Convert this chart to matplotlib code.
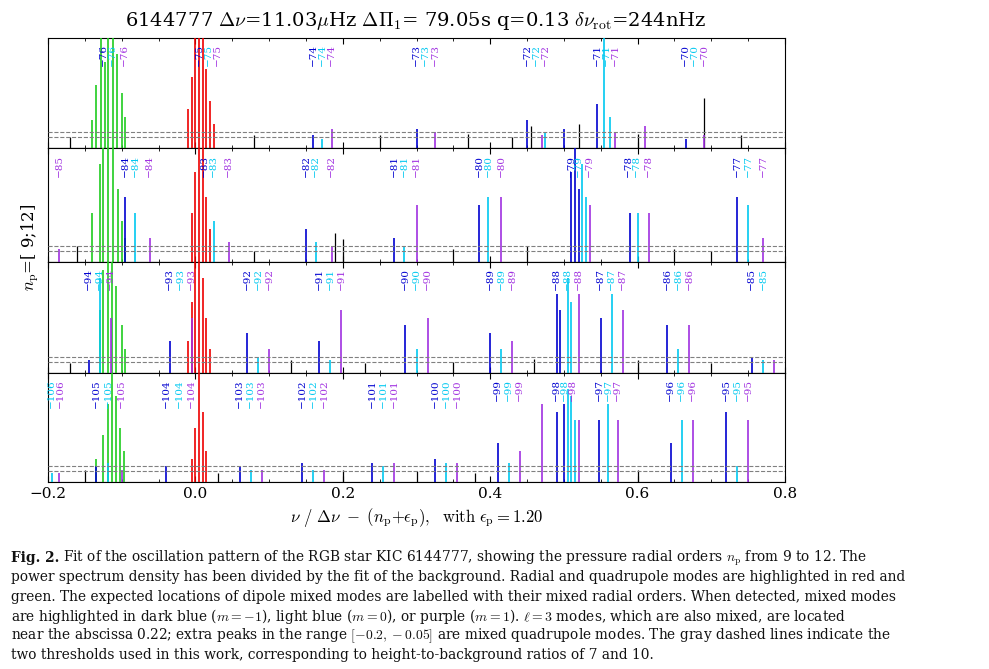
import matplotlib
matplotlib.use("Agg")
import matplotlib.pyplot as plt

COL = {'g': '#1fcc1f', 'r': '#ee0000', 'b': '#0000d0', 'c': '#00c8f0', 'p': '#a030e0', 'k': 'black'}

# mode labels per panel: (x, mixed order, colour)
lab1 = [(-0.125,-76,'b'),(-0.112,-76,'c'),(-0.097,-76,'p'),(0.005,-75,'b'),(0.017,-75,'c'),(0.03,-75,'p'),
        (0.16,-74,'b'),(0.172,-74,'c'),(0.185,-74,'p'),(0.30,-73,'b'),(0.312,-73,'c'),(0.325,-73,'p'),
        (0.45,-72,'b'),(0.462,-72,'c'),(0.475,-72,'p'),(0.545,-71,'b'),(0.557,-71,'c'),(0.57,-71,'p'),
        (0.665,-70,'b'),(0.677,-70,'c'),(0.69,-70,'p')]
lab2 = [(-0.185,-85,'p'),(-0.095,-84,'b'),(-0.082,-84,'c'),(-0.062,-84,'p'),(0.012,-83,'b'),(0.025,-83,'c'),(0.045,-83,'p'),
        (0.15,-82,'b'),(0.163,-82,'c'),(0.185,-82,'p'),(0.27,-81,'b'),(0.283,-81,'c'),(0.30,-81,'p'),
        (0.385,-80,'b'),(0.397,-80,'c'),(0.415,-80,'p'),(0.51,-79,'b'),(0.52,-79,'c'),(0.535,-79,'p'),
        (0.588,-78,'b'),(0.598,-78,'c'),(0.615,-78,'p'),(0.735,-77,'b'),(0.75,-77,'c'),(0.77,-77,'p')]
lab3 = [(-0.145,-94,'b'),(-0.13,-94,'c'),(-0.115,-94,'p'),(-0.035,-93,'b'),(-0.02,-93,'c'),(-0.005,-93,'p'),
        (0.07,-92,'b'),(0.085,-92,'c'),(0.10,-92,'p'),(0.168,-91,'b'),(0.183,-91,'c'),(0.198,-91,'p'),
        (0.285,-90,'b'),(0.30,-90,'c'),(0.315,-90,'p'),(0.40,-89,'b'),(0.415,-89,'c'),(0.43,-89,'p'),
        (0.49,-88,'b'),(0.505,-88,'c'),(0.52,-88,'p'),(0.55,-87,'b'),(0.565,-87,'c'),(0.58,-87,'p'),
        (0.64,-86,'b'),(0.655,-86,'c'),(0.67,-86,'p'),(0.755,-85,'b'),(0.77,-85,'c')]
lab4 = [(-0.195,-106,'c'),(-0.183,-106,'p'),(-0.135,-105,'b'),(-0.118,-105,'c'),(-0.10,-105,'p'),
        (-0.04,-104,'b'),(-0.022,-104,'c'),(-0.005,-104,'p'),(0.06,-103,'b'),(0.075,-103,'c'),(0.09,-103,'p'),
        (0.145,-102,'b'),(0.16,-102,'c'),(0.175,-102,'p'),(0.24,-101,'b'),(0.255,-101,'c'),(0.27,-101,'p'),
        (0.325,-100,'b'),(0.34,-100,'c'),(0.355,-100,'p'),(0.41,-99,'b'),(0.425,-99,'c'),(0.44,-99,'p'),
        (0.49,-98,'b'),(0.50,-98,'c'),(0.512,-98,'p'),(0.548,-97,'b'),(0.56,-97,'c'),(0.573,-97,'p'),
        (0.645,-96,'b'),(0.66,-96,'c'),(0.675,-96,'p'),(0.72,-95,'b'),(0.735,-95,'c'),(0.75,-95,'p')]

# peaks per panel: (x, height-to-background, colour)
pk1 = [(-0.14,18,'g'),(-0.135,40,'g'),(-0.128,70,'g'),(-0.122,55,'g'),(-0.118,80,'g'),(-0.112,90,'g'),(-0.106,60,'g'),(-0.10,35,'g'),(-0.095,20,'g'),
       (-0.01,25,'r'),(-0.005,45,'r'),(0.0,70,'r'),(0.005,90,'r'),(0.01,80,'r'),(0.015,50,'r'),(0.02,30,'r'),(0.025,15,'r'),
       (0.16,8,'b'),(0.30,12,'b'),(0.45,18,'b'),(0.50,12,'b'),(0.545,28,'b'),(0.665,6,'b'),
       (0.172,6,'c'),(0.555,75,'c'),(0.563,20,'c'),(0.475,10,'c'),
       (0.185,12,'p'),(0.325,10,'p'),(0.47,8,'p'),(0.57,10,'p'),(0.61,14,'p'),(0.69,8,'p'),
       (0.69,32,'k'),(0.455,14,'k'),(0.52,15,'k'),(0.08,8,'k'),(0.25,8,'k'),(0.37,9,'k'),(0.60,9,'k'),(0.74,8,'k'),(-0.17,7,'k'),(0.43,7,'k')]
pk2 = [(-0.14,30,'g'),(-0.13,60,'g'),(-0.125,75,'g'),(-0.118,90,'g'),(-0.112,70,'g'),(-0.105,45,'g'),(-0.10,25,'g'),(-0.095,15,'g'),
       (-0.005,30,'r'),(0.0,55,'r'),(0.005,80,'r'),(0.01,70,'r'),(0.015,40,'r'),(0.02,20,'r'),
       (-0.095,40,'b'),(0.15,20,'b'),(0.27,15,'b'),(0.385,35,'b'),(0.51,55,'b'),(0.515,70,'b'),(0.52,45,'b'),(0.59,30,'b'),(0.735,40,'b'),
       (-0.082,30,'c'),(0.025,25,'c'),(0.163,12,'c'),(0.283,10,'c'),(0.397,40,'c'),(0.525,60,'c'),(0.53,40,'c'),(0.60,30,'c'),(0.75,35,'c'),
       (-0.185,8,'p'),(-0.062,15,'p'),(0.045,12,'p'),(0.185,10,'p'),(0.30,35,'p'),(0.415,40,'p'),(0.535,35,'p'),(0.615,30,'p'),(0.77,15,'p'),
       (-0.16,10,'k'),(0.20,14,'k'),(0.19,18,'k'),(0.35,8,'k'),(0.45,10,'k'),(0.65,8,'k'),(0.70,7,'k'),(0.08,7,'k')]
pk3 = [(-0.13,40,'g'),(-0.125,65,'g'),(-0.118,90,'g'),(-0.113,75,'g'),(-0.108,55,'g'),(-0.10,30,'g'),(-0.095,15,'g'),
       (-0.01,20,'r'),(-0.005,45,'r'),(0.0,70,'r'),(0.005,90,'r'),(0.01,60,'r'),(0.015,35,'r'),(0.02,15,'r'),
       (-0.145,8,'b'),(-0.035,20,'b'),(0.07,25,'b'),(0.168,20,'b'),(0.285,30,'b'),(0.40,25,'b'),(0.49,50,'b'),(0.495,40,'b'),(0.55,35,'b'),(0.64,30,'b'),(0.755,10,'b'),
       (-0.13,60,'c'),(0.085,10,'c'),(0.183,8,'c'),(0.30,15,'c'),(0.415,15,'c'),(0.505,60,'c'),(0.51,45,'c'),(0.565,50,'c'),(0.655,15,'c'),(0.77,8,'c'),
       (-0.115,35,'p'),(-0.005,35,'p'),(0.10,15,'p'),(0.198,40,'p'),(0.315,35,'p'),(0.43,20,'p'),(0.52,50,'p'),(0.58,40,'p'),(0.67,30,'p'),(0.785,8,'p'),
       (-0.17,6,'k'),(0.13,8,'k'),(0.35,7,'k'),(0.46,9,'k'),(0.60,8,'k'),(0.70,6,'k'),(0.23,6,'k')]
pk4 = [(-0.135,15,'g'),(-0.125,30,'g'),(-0.118,50,'g'),(-0.113,70,'g'),(-0.108,55,'g'),(-0.102,35,'g'),(-0.097,20,'g'),
       (-0.005,15,'r'),(0.0,35,'r'),(0.005,75,'r'),(0.01,45,'r'),(0.015,20,'r'),
       (-0.135,10,'b'),(-0.04,10,'b'),(0.06,10,'b'),(0.145,12,'b'),(0.24,12,'b'),(0.325,15,'b'),(0.41,25,'b'),(0.49,45,'b'),(0.50,50,'b'),(0.548,40,'b'),(0.645,25,'b'),(0.72,45,'b'),
       (-0.195,6,'c'),(-0.118,12,'c'),(0.075,8,'c'),(0.16,8,'c'),(0.255,10,'c'),(0.34,12,'c'),(0.425,12,'c'),(0.505,60,'c'),(0.51,55,'c'),(0.515,40,'c'),(0.56,50,'c'),(0.66,40,'c'),(0.735,10,'c'),
       (-0.185,6,'p'),(-0.10,8,'p'),(0.09,8,'p'),(0.175,8,'p'),(0.27,12,'p'),(0.355,12,'p'),(0.44,20,'p'),(0.47,50,'p'),(0.52,40,'p'),(0.573,40,'p'),(0.675,40,'p'),(0.75,40,'p'),
       (-0.15,8,'k'),(0.20,8,'k'),(0.30,7,'k'),(0.38,6,'k'),(0.60,8,'k'),(0.03,6,'k')]

thresholds = [7, 10]
xticks = [-0.2, 0.0, 0.2, 0.4, 0.6, 0.8]

caption_lines = [
    "Fit of the oscillation pattern of the RGB star KIC 6144777, showing the pressure radial orders $n_{\\rm p}$ from 9 to 12. The",
    "power spectrum density has been divided by the fit of the background. Radial and quadrupole modes are highlighted in red and",
    "green. The expected locations of dipole mixed modes are labelled with their mixed radial orders. When detected, mixed modes",
    "are highlighted in dark blue ($m=-1$), light blue ($m=0$), or purple ($m=1$). $\\ell=3$ modes, which are also mixed, are located",
    "near the abscissa 0.22; extra peaks in the range $[-0.2, -0.05]$ are mixed quadrupole modes. The gray dashed lines indicate the",
    "two thresholds used in this work, corresponding to height-to-background ratios of 7 and 10.",
]

plt.rcParams['font.family'] = ['DejaVu Serif']
plt.rcParams['mathtext.fontset'] = 'cm'
fig = plt.figure(figsize=(9.89, 6.69), dpi=100)

left, width = 48/989, 737/989
bounds = [(38, 148), (148, 262), (262, 373), (373, 482)]
panels = [(lab1, pk1), (lab2, pk2), (lab3, pk3), (lab4, pk4)]
for i, ((t, b), (labs, pks)) in enumerate(zip(bounds, panels)):
    ax = fig.add_axes([left, 1 - b/669, width, (b - t)/669])
    ax.set_xlim(-0.2, 0.8)
    ax.set_ylim(0, 70)
    ax.axhline(0.3, color='black', lw=0.8)
    for x, h, c in pks:
        ax.vlines(x, 0, h, color=COL[c], lw=1.2 if c != 'k' else 0.9, zorder=3 if c != 'k' else 2)
    for th in thresholds:
        ax.axhline(th, color='gray', ls='--', lw=0.8, zorder=4)
    for x, n, c in labs:
        ax.text(x, 66, f"−{abs(n)}", rotation=90, color=COL[c], fontsize=7.5,
                ha='center', va='top', zorder=5)
    ax.set_yticks([])
    ax.set_xticks(xticks)
    ax.tick_params(direction='in', top=True, length=4)
    ax.xaxis.set_minor_locator(matplotlib.ticker.MultipleLocator(0.05))
    ax.tick_params(which='minor', direction='in', top=True, length=2)
    if i < 3:
        ax.set_xticklabels([])
    else:
        ax.set_xticklabels(["−0.2", "0.0", "0.2", "0.4", "0.6", "0.8"], fontsize=11)
        ax.set_xlabel(r"$\nu\ /\ \Delta\nu\ -\ (n_{\rm p}{+}\epsilon_{\rm p}),\ \ \rm with\ \epsilon_{\rm p}{=}1.20$", fontsize=12)

fig.text(0.42, 0.968, r"6144777 $\Delta\nu$=11.03$\mu$Hz $\Delta\Pi_1$= 79.05s q=0.13 $\delta\nu_{\rm rot}$=244nHz",
         ha='center', va='center', fontsize=14)
fig.text(0.03, 0.63, r"$n_{\rm p}$=[ 9;12]", rotation=90, ha='center', va='center', fontsize=12)

x0 = 11/989
y_first = 558  # px baseline-ish centre of first caption line
step = 19.5
fig.text(x0, 1 - y_first/669, "Fig. 2.", ha='left', va='center', fontsize=9.9, fontweight='bold', color='#111111')
for k, line in enumerate(caption_lines):
    xx = x0 + (52/989 if k == 0 else 0)
    fig.text(xx, 1 - (y_first + k*step)/669, line, ha='left', va='center', fontsize=9.9, color='#111111')
fig.savefig("out.png", dpi=100)
